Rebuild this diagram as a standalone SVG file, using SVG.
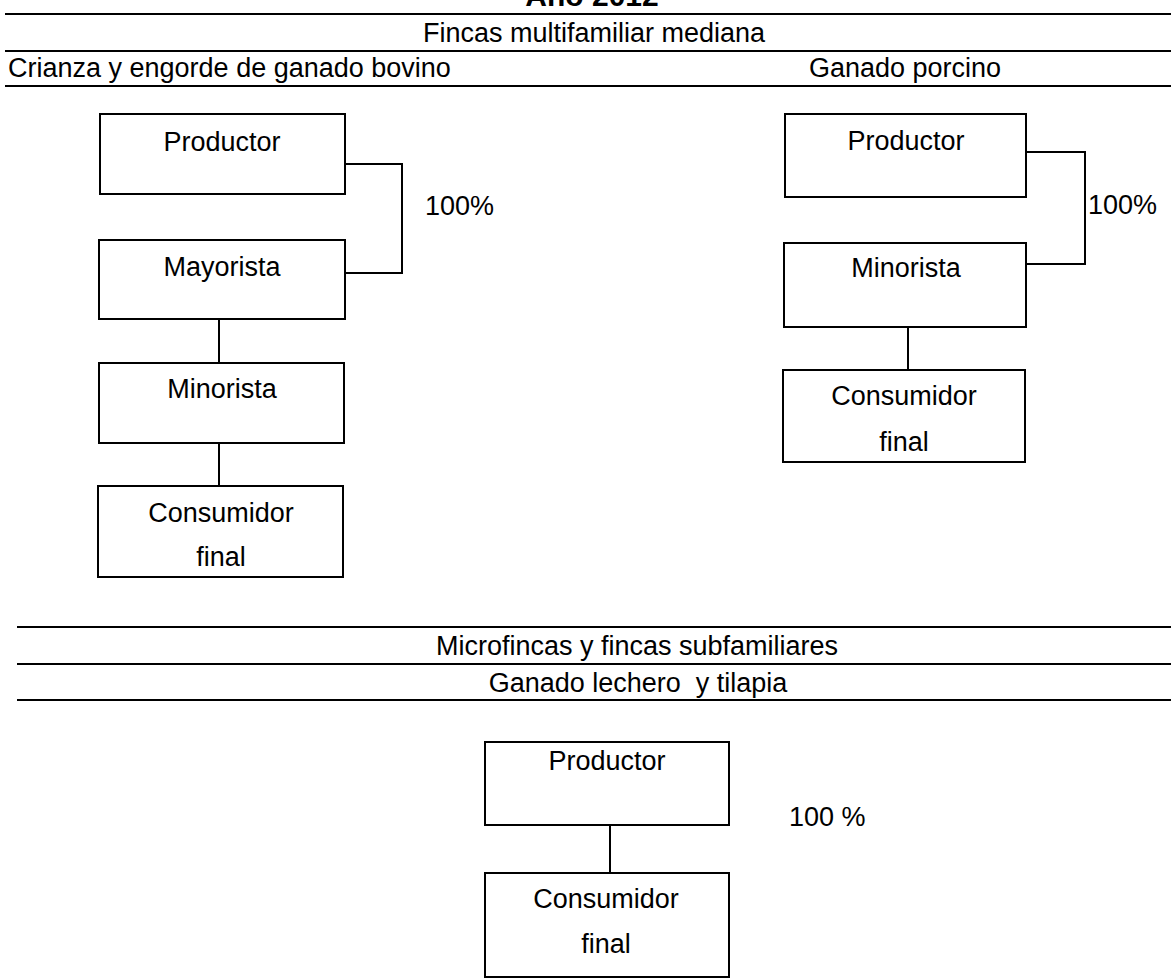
<svg xmlns="http://www.w3.org/2000/svg" width="1171" height="979" viewBox="0 0 1171 979">
<style>
.t{font-family:"Liberation Sans",Arial,sans-serif;font-size:27px;fill:#000}
.c{text-anchor:middle}
.h{stroke:#000;stroke-width:2;fill:none}
.box{stroke:#000;stroke-width:2;fill:#fff}
.ln{stroke:#000;stroke-width:2;fill:none}
</style>
<rect width="1171" height="979" fill="#fff"/>
<g id="headers">
<text class="t c" x="592" y="6" style="font-weight:bold;font-size:30px">Año 2012</text>
<line class="h" x1="5" y1="14" x2="1171" y2="14"/>
<text class="t c" x="594" y="42">Fincas multifamiliar mediana</text>
<line class="h" x1="5" y1="51" x2="1171" y2="51"/>
<text class="t" x="8" y="77">Crianza y engorde de ganado bovino</text>
<text class="t" x="809" y="77">Ganado porcino</text>
<line class="h" x1="5" y1="86" x2="1171" y2="86"/>
<line class="h" x1="17" y1="627" x2="1171" y2="627"/>
<text class="t c" x="637" y="655">Microfincas y fincas subfamiliares</text>
<line class="h" x1="17" y1="664" x2="1171" y2="664"/>
<text class="t c" x="638" y="692" style="white-space:pre">Ganado lechero  y tilapia</text>
<line class="h" x1="17" y1="700" x2="1171" y2="700"/>
</g>
<g id="connectors">
<polyline class="ln" points="345,164 402,164 402,273 345,273"/>
<line class="ln" x1="219" y1="319" x2="219" y2="363"/>
<line class="ln" x1="219" y1="443" x2="219" y2="486"/>
<polyline class="ln" points="1026,152 1085,152 1085,264 1026,264"/>
<line class="ln" x1="908" y1="327" x2="908" y2="370"/>
<line class="ln" x1="610" y1="825" x2="610" y2="873"/>
<text class="t" x="425" y="215">100%</text>
<text class="t" x="1088" y="214">100%</text>
<text class="t" x="789" y="826">100 %</text>
</g>
<g id="bov-productor">
<rect class="box" x="100" y="114" width="245" height="80"/>
<text class="t c" x="222" y="151">Productor</text>
</g>
<g id="bov-mayorista">
<rect class="box" x="99" y="240" width="246" height="79"/>
<text class="t c" x="222" y="276">Mayorista</text>
</g>
<g id="bov-minorista">
<rect class="box" x="99" y="363" width="245" height="80"/>
<text class="t c" x="222" y="398">Minorista</text>
</g>
<g id="bov-consumidor">
<rect class="box" x="98" y="486" width="245" height="91"/>
<text class="t c" x="221" y="522">Consumidor</text>
<text class="t c" x="221" y="566">final</text>
</g>
<g id="por-productor">
<rect class="box" x="785" y="114" width="241" height="83"/>
<text class="t c" x="906" y="150">Productor</text>
</g>
<g id="por-minorista">
<rect class="box" x="784" y="243" width="242" height="84"/>
<text class="t c" x="906" y="277">Minorista</text>
</g>
<g id="por-consumidor">
<rect class="box" x="783" y="370" width="242" height="92"/>
<text class="t c" x="904" y="405">Consumidor</text>
<text class="t c" x="904" y="451">final</text>
</g>
<g id="lec-productor">
<rect class="box" x="485" y="742" width="244" height="83"/>
<text class="t c" x="607" y="770">Productor</text>
</g>
<g id="lec-consumidor">
<rect class="box" x="485" y="873" width="244" height="104"/>
<text class="t c" x="606" y="908">Consumidor</text>
<text class="t c" x="606" y="953">final</text>
</g>
</svg>
